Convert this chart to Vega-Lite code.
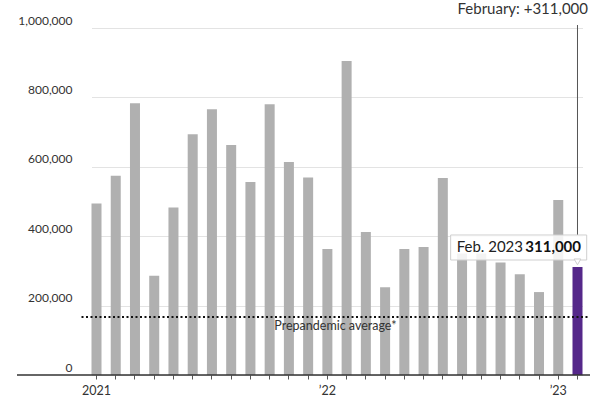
{
  "$schema": "https://vega.github.io/schema/vega-lite/v6.json",
  "width": 573,
  "height": 347,
  "autosize": "none",
  "padding": {"left": 17, "top": 28, "right": 10, "bottom": 22},
  "background": "white",
  "title": {"text": "February: +311,000", "anchor": "end", "frame": "group", "font": "Lato", "fontSize": 15, "fontWeight": "normal", "color": "#333333", "offset": 0, "dy": 3, "dx": -2},
  "config": {
    "view": {"stroke": null},
    "font": "Lato",
    "axisX": {
      "grid": false, "labelAngle": 0, "domain": false,
      "tickColor": "#555555", "tickSize": 4, "tickWidth": 1,
      "labelExpr": "datum.value === '2021-01' ? '2021' : datum.value === '2022-01' ? '’22' : datum.value === '2023-01' ? '’23' : ''",
      "labelFont": "Lato", "labelFontSize": 12.5, "labelColor": "#333333", "labelPadding": 5, "labelOverlap": false
    },
    "axisY": {
      "grid": true, "gridColor": "#e3e3e3", "gridWidth": 1,
      "domain": false, "ticks": false, "tickSize": 0, "tickCount": 5,
      "labelExpr": "format(datum.value, ',')",
      "labelAlign": "right", "labelBaseline": "alphabetic", "labelPadding": -55, "labelOffset": -4,
      "labelFont": "Lato", "labelFontSize": 12, "labelColor": "#333333", "labelFlush": false, "labelOverlap": false
    }
  },
  "datasets": {
    "jobs": [
      {"month": "2021-01", "jobs": 494000},
      {"month": "2021-02", "jobs": 574000},
      {"month": "2021-03", "jobs": 783000},
      {"month": "2021-04", "jobs": 286000},
      {"month": "2021-05", "jobs": 483000},
      {"month": "2021-06", "jobs": 694000},
      {"month": "2021-07", "jobs": 766000},
      {"month": "2021-08", "jobs": 663000},
      {"month": "2021-09", "jobs": 556000},
      {"month": "2021-10", "jobs": 780000},
      {"month": "2021-11", "jobs": 614000},
      {"month": "2021-12", "jobs": 569000},
      {"month": "2022-01", "jobs": 363000},
      {"month": "2022-02", "jobs": 905000},
      {"month": "2022-03", "jobs": 412000},
      {"month": "2022-04", "jobs": 253000},
      {"month": "2022-05", "jobs": 363000},
      {"month": "2022-06", "jobs": 369000},
      {"month": "2022-07", "jobs": 568000},
      {"month": "2022-08", "jobs": 350000},
      {"month": "2022-09", "jobs": 350000},
      {"month": "2022-10", "jobs": 324000},
      {"month": "2022-11", "jobs": 290000},
      {"month": "2022-12", "jobs": 239000},
      {"month": "2023-01", "jobs": 504000},
      {"month": "2023-02", "jobs": 311000}
    ],
    "prepandemic": [{"label": "Prepandemic average*", "jobs": 167000}]
  },
  "layer": [
    {
      "data": {"name": "jobs"},
      "mark": {"type": "bar"},
      "encoding": {
        "x": {
          "field": "month", "type": "ordinal", "sort": "ascending", "title": null,
          "scale": {"range": [74.5, 565.5], "paddingInner": 0.48, "paddingOuter": 0, "round": false}
        },
        "y": {
          "field": "jobs", "type": "quantitative", "title": null,
          "scale": {"domain": [0, 1000000], "nice": false}
        },
        "color": {
          "condition": {"test": "datum.month === '2023-02'", "value": "#55288a"},
          "value": "#b0b0b0"
        }
      }
    },
    {
      "data": {"values": [{}]},
      "mark": {"type": "rule", "color": "#333333", "strokeWidth": 1.3, "xOffset": -79.5, "x2Offset": 12.5},
      "encoding": {
        "x": {"datum": "2021-01", "type": "ordinal", "bandPosition": 0.5, "title": null},
        "x2": {"datum": "2023-02", "bandPosition": 0.5},
        "y": {"datum": 0, "type": "quantitative", "title": null}
      }
    },
    {
      "data": {"name": "prepandemic"},
      "mark": {"type": "rule", "color": "#111111", "strokeWidth": 2, "strokeDash": [2, 2.5], "xOffset": -15, "x2Offset": 10.5},
      "encoding": {
        "x": {"datum": "2021-01", "type": "ordinal", "bandPosition": 0.5, "title": null},
        "x2": {"datum": "2023-02", "bandPosition": 0.5},
        "y": {"field": "jobs", "type": "quantitative", "title": null}
      }
    },
    {
      "data": {"name": "prepandemic"},
      "mark": {"type": "text", "font": "Lato", "fontSize": 12.5, "color": "#333333", "align": "center", "baseline": "alphabetic", "dx": 8, "dy": 13},
      "encoding": {
        "x": {"datum": "2022-01", "type": "ordinal", "bandPosition": 0.5, "title": null},
        "y": {"field": "jobs", "type": "quantitative", "title": null},
        "text": {"field": "label"}
      }
    },
    {
      "data": {"values": [{}]},
      "mark": {"type": "rule", "color": "#555555", "strokeWidth": 1},
      "encoding": {
        "x": {"datum": "2023-02", "type": "ordinal", "bandPosition": 0.5, "title": null},
        "y": {"datum": 1008600, "type": "quantitative", "title": null},
        "y2": {"datum": 403500}
      }
    },
    {
      "data": {"values": [{}]},
      "mark": {"type": "rect", "fill": "white", "fillOpacity": 0.85, "stroke": "#cfcfcf", "strokeWidth": 1, "xOffset": -11.4, "x2Offset": 9.2},
      "encoding": {
        "x": {"datum": "2022-08", "type": "ordinal", "bandPosition": 0.5, "title": null},
        "x2": {"datum": "2023-02", "bandPosition": 0.5},
        "y": {"datum": 403500, "type": "quantitative", "title": null},
        "y2": {"datum": 331400}
      }
    },
    {
      "data": {"values": [{}]},
      "mark": {"type": "point", "shape": "triangle-down", "filled": true, "fill": "white", "stroke": "#cfcfcf", "strokeWidth": 1, "size": 45, "opacity": 1},
      "encoding": {
        "x": {"datum": "2023-02", "type": "ordinal", "bandPosition": 0.5, "title": null},
        "y": {"datum": 326000, "type": "quantitative", "title": null}
      }
    },
    {
      "data": {"values": [{"label": "Feb. 2023"}]},
      "mark": {"type": "text", "font": "Lato", "fontSize": 15, "color": "#222222", "align": "left", "baseline": "alphabetic", "dx": -5.4},
      "encoding": {
        "x": {"datum": "2022-08", "type": "ordinal", "bandPosition": 0.5, "title": null},
        "y": {"datum": 355300, "type": "quantitative", "title": null},
        "text": {"field": "label"}
      }
    },
    {
      "data": {"name": "jobs"},
      "transform": [{"filter": "datum.month === '2023-02'"}],
      "mark": {"type": "text", "font": "Lato", "fontSize": 15, "fontWeight": "bold", "color": "#111111", "align": "right", "baseline": "alphabetic", "dx": 3.5},
      "encoding": {
        "x": {"field": "month", "type": "ordinal", "title": null},
        "y": {"datum": 355300, "type": "quantitative", "title": null},
        "text": {"field": "jobs", "format": ","}
      }
    }
  ]
}
